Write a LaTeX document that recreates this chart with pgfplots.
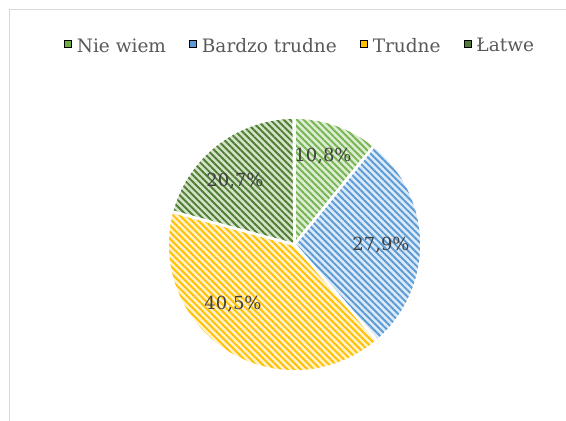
\documentclass[border=0pt]{standalone}
\usepackage{pgfplots}
\pgfplotsset{compat=1.18}
\usepackage{pgfplotstable}
\usetikzlibrary{patterns.meta}
\usepackage{fontspec}
\setmainfont{DejaVu Serif}
\definecolor{txtgray}{HTML}{595959}
\definecolor{lblgray}{HTML}{404040}
\definecolor{frame}{HTML}{D9D9D9}
\definecolor{gA}{HTML}{76B451}
\definecolor{gAbg}{HTML}{DDEDD3}
\definecolor{gAleg}{HTML}{6AAE45}
\definecolor{bB}{HTML}{5B9BD5}
\definecolor{bBbg}{HTML}{DCEAF7}
\definecolor{yC}{HTML}{FFC000}
\definecolor{yCbg}{HTML}{FFF1C9}
\definecolor{gD}{HTML}{4F7D33}
\definecolor{gDbg}{HTML}{D3E3C8}

\pgfplotstableread{
id value
0 10.8
1 27.9
2 40.5
3 20.7
}\piedata
\pgfplotstablegetelem{0}{value}\of\piedata\let\vA\pgfplotsretval
\pgfplotstablegetelem{1}{value}\of\piedata\let\vB\pgfplotsretval
\pgfplotstablegetelem{2}{value}\of\piedata\let\vC\pgfplotsretval
\pgfplotstablegetelem{3}{value}\of\piedata\let\vD\pgfplotsretval
\pgfmathsetmacro\aO{90}
\pgfmathsetmacro\aA{\aO-3.6*\vA}
\pgfmathsetmacro\aB{\aA-3.6*\vB}
\pgfmathsetmacro\aC{\aB-3.6*\vC}
\pgfmathsetmacro\aD{\aC-3.6*\vD}
\def\cx{294.5}\def\cy{176.5}\def\R{127}

\begin{document}%
\begin{tikzpicture}
\begin{axis}[
  at={(0,0)}, anchor=south west,
  x=1bp, y=1bp, xmin=0, xmax=566, ymin=0, ymax=421,
  enlargelimits=false,
  hide axis, clip=false,
  sector/.style n args={3}{draw=white, line width=2.6bp,
     preaction={fill=#2},
     pattern={Lines[angle=-45,distance=4.7bp,line width=1.9bp]},
     pattern color=#1, domain=#3, samples=90, forget plot},
  legend image code/.code={\fill[#1] (0bp,-1.5bp) rectangle (7bp,5.5bp); \path (10.5bp,0bp);},
  legend columns=4,
  legend style={at={(axis cs:300,375)}, anchor=center, draw=none, fill=none,
     font=\fontsize{18.5bp}{22bp}\selectfont, text=txtgray,
     inner sep=0pt,
     /tikz/every even column/.append style={column sep=21bp}},
]
\addplot[sector={gA}{gAbg}{\aA:\aO}] ({\cx+\R*cos(x)},{\cy+\R*sin(x)}) -- (axis cs:\cx,\cy) -- cycle;
\addplot[sector={bB}{bBbg}{\aB:\aA}] ({\cx+\R*cos(x)},{\cy+\R*sin(x)}) -- (axis cs:\cx,\cy) -- cycle;
\addplot[sector={yC}{yCbg}{\aC:\aB}] ({\cx+\R*cos(x)},{\cy+\R*sin(x)}) -- (axis cs:\cx,\cy) -- cycle;
\addplot[sector={gD}{gDbg}{\aD:\aC}] ({\cx+\R*cos(x)},{\cy+\R*sin(x)}) -- (axis cs:\cx,\cy) -- cycle;
\addlegendimage{fill=gAleg}\addlegendentry{Nie wiem}
\addlegendimage{fill=bB}\addlegendentry{Bardzo trudne}
\addlegendimage{fill=yC}\addlegendentry{Trudne}
\addlegendimage{fill=gD}\addlegendentry{Łatwe}
\begin{scope}[every node/.style={text=lblgray, font=\fontsize{18bp}{21bp}\selectfont}]
\node at (axis cs:323,265) {10,8\%};
\node at (axis cs:381,176) {27,9\%};
\node at (axis cs:233,117) {40,5\%};
\node at (axis cs:235,240) {20,7\%};
\end{scope}
\end{axis}
\draw[frame, line width=1bp] (9.5bp,0) -- (9.5bp,411.5bp) -- (566bp,411.5bp);
\pgfresetboundingbox
\useasboundingbox (0,0) rectangle (566bp,421bp);
\end{tikzpicture}%
\end{document}
